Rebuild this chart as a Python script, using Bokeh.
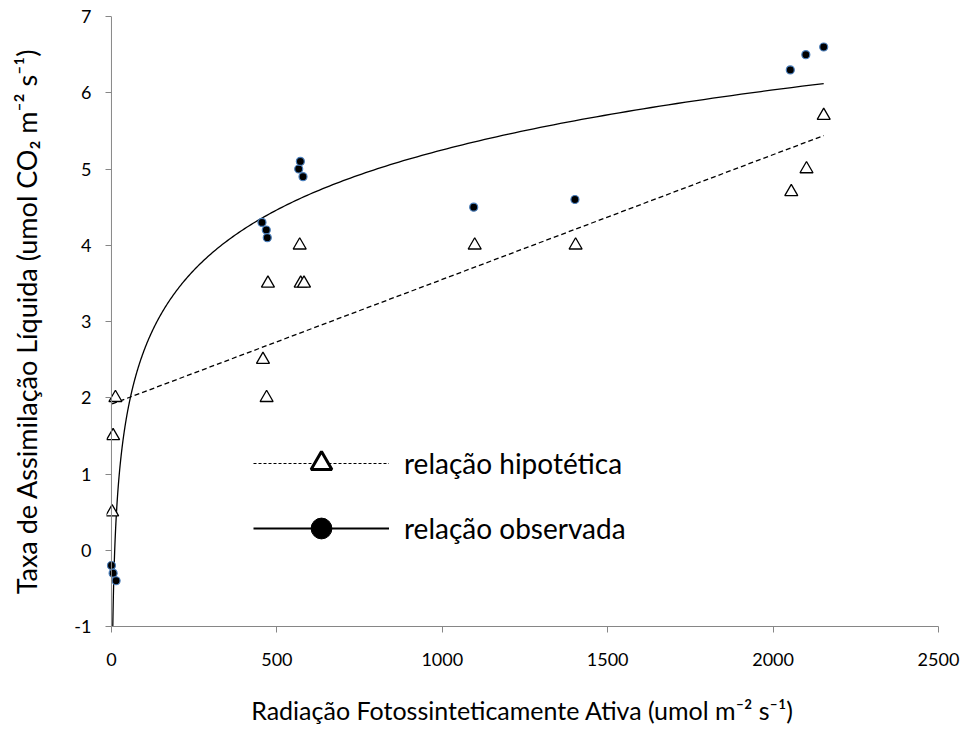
import numpy as np
from bokeh.plotting import figure
from bokeh.models import Range1d, FixedTicker, Legend, LegendItem, Span
from bokeh.embed import file_html
from bokeh.resources import INLINE

# observed points (relação observada)
obs_x = [0, 5, 14, 455, 468, 471, 566, 571, 579, 1095, 1401, 2052, 2099, 2153]
obs_y = [-0.2, -0.3, -0.4, 4.3, 4.2, 4.1, 5.0, 5.1, 4.9, 4.5, 4.6, 6.3, 6.5, 6.6]

# hypothetical points (relação hipotética)
hyp_x = [12, 5, 2, 458, 469, 473, 569, 572, 582, 1098, 1403, 2055, 2101, 2153]
hyp_y = [2.0, 1.5, 0.5, 2.5, 2.0, 3.5, 4.0, 3.5, 3.5, 4.0, 4.0, 4.7, 5.0, 5.7]

# trend lines
log_a, log_b = 1.135, -2.59        # y = a*ln(x) + b  (observada)
lin_m, lin_c = 0.001636, 1.916     # y = m*x + c      (hipotética)

x_ticks = [0, 500, 1000, 1500, 2000, 2500]
y_ticks = [-1, 0, 1, 2, 3, 4, 5, 6, 7]

FONT = "Lato"
AXIS_GREY = "#868686"

# x range starts slightly below 0 so that markers at x≈0 are not cut by the frame
p = figure(width=965, height=740, output_backend="svg", toolbar_location=None,
           x_range=Range1d(-15, 2500), y_range=Range1d(-1, 7),
           min_border_left=106, min_border_right=27, min_border_top=16, min_border_bottom=114)
p.outline_line_color = None
p.xgrid.visible = False
p.ygrid.visible = False
p.background_fill_color = "white"
p.border_fill_color = "white"

for ax in (p.xaxis[0], p.yaxis[0]):
    ax.axis_line_color = AXIS_GREY
    ax.major_tick_line_color = AXIS_GREY
    ax.minor_tick_line_color = None
    ax.major_label_text_font = FONT
    ax.major_label_text_font_size = "18px"
    ax.major_label_text_color = "black"
    ax.axis_label_text_font = FONT
    ax.axis_label_text_font_style = "normal"
    ax.axis_label_text_color = "black"
p.xaxis.axis_label_text_font_size = "25px"
p.yaxis.axis_label_text_font_size = "27px"

p.xaxis.ticker = FixedTicker(ticks=x_ticks)
p.yaxis.ticker = FixedTicker(ticks=y_ticks)
p.yaxis.major_label_overrides = {t: str(t) for t in y_ticks}
p.xaxis.bounds = (0, 2500)
p.xaxis.major_tick_in = 0
p.xaxis.major_tick_out = 6
# y axis: its line is drawn at x = 0 by a span; ticks reach from the frame edge to it
p.yaxis.axis_line_color = None
p.yaxis.major_tick_in = 5
p.yaxis.major_tick_out = 1
p.add_layout(Span(location=0, dimension="height", line_color=AXIS_GREY, line_width=1))

p.xaxis.major_label_standoff = 20
p.yaxis.major_label_standoff = 14
p.xaxis.axis_label = "Radiação Fotossinteticamente Ativa (umol m\u207b\u00b2 s\u207b\u00b9)"
p.yaxis.axis_label = "Taxa de Assimilação Líquida (umol CO\u2082 m\u207b\u00b2 s\u207b\u00b9)"
p.xaxis.axis_label_standoff = 26
p.yaxis.axis_label_standoff = 28

# trend lines
lx = np.geomspace(1, max(obs_x), 500)
p.line(lx, log_a * np.log(lx) + log_b, line_color="black", line_width=1.3)
hx = np.array([min(hyp_x), max(hyp_x)])
p.line(hx, lin_m * hx + lin_c, line_color="black", line_width=1.3, line_dash="5 3")

# data points
p.scatter(hyp_x, hyp_y, marker="triangle", size=13, fill_color="white",
          line_color="black", line_width=1.3)
p.scatter(obs_x, obs_y, marker="circle", size=8, fill_color="black",
          line_color="#4a7ebb", line_width=1.2)

# legend glyphs (renderers with no visible point, used only for the legend)
nan = [float("nan")]
l1 = p.line(nan, nan, line_color="black", line_width=1, line_dash="3 2")
t1 = p.scatter(nan, nan, marker="triangle", size=21, fill_color="white",
               line_color="black", line_width=3)
l2 = p.line(nan, nan, line_color="black", line_width=2)
c2 = p.scatter(nan, nan, marker="circle", size=21, fill_color="black",
               line_color="black", line_width=1)

legend = Legend(items=[LegendItem(label="relação hipotética", renderers=[l1, t1]),
                       LegendItem(label="relação observada", renderers=[l2, c2])],
                location=(147, 72), orientation="vertical",
                glyph_width=136, glyph_height=52, label_height=52,
                spacing=13, label_standoff=15, padding=0, margin=0,
                border_line_color=None, background_fill_alpha=0,
                label_text_font=FONT, label_text_font_size="28px",
                label_text_color="black")
p.add_layout(legend, "center")

open("out.html", "w").write(file_html(p, INLINE))
